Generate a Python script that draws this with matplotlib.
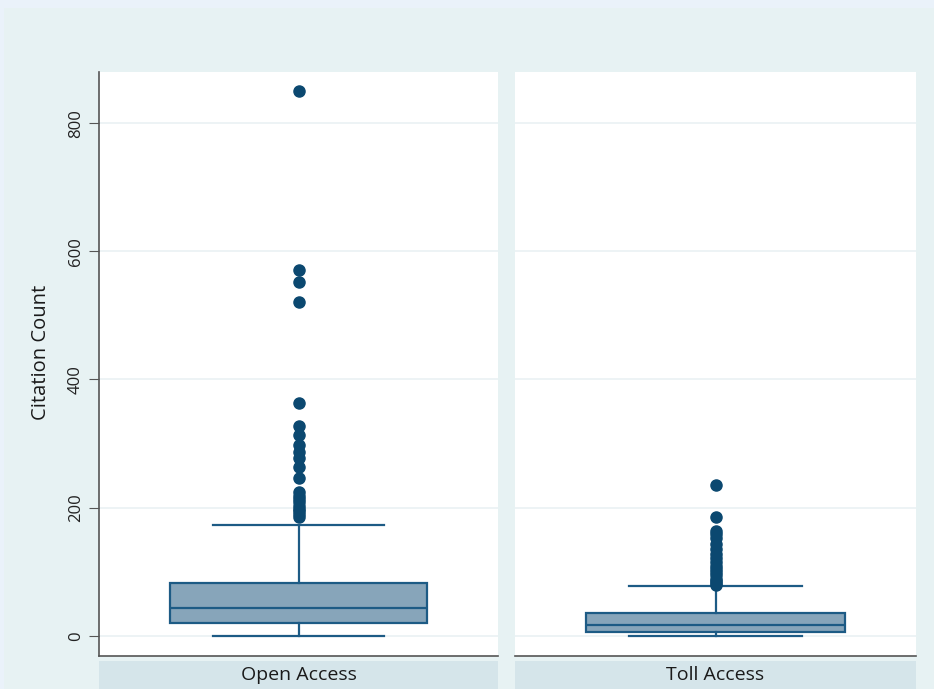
import matplotlib
matplotlib.use('Agg')
import matplotlib.pyplot as plt
from matplotlib.patches import Rectangle

plt.rcParams['font.family'] = ['Open Sans', 'DejaVu Sans']

# group labels
groups = ['Open Access', 'Toll Access']

# box summary values
whislo = [0, 0]
q1 = [20, 6]
med = [44, 17]
q3 = [83, 35]
whishi = [173, 77]

# outliers
fliers_open = [850, 571, 552, 521, 363, 327, 313, 297, 287, 278, 263, 246,
               224, 218, 213, 208, 203, 198, 194, 190, 186]
fliers_toll = [235, 186, 164, 158, 152, 143, 136, 128, 121, 115, 109, 104,
               99, 94, 89, 85, 82, 79]
fliers = [fliers_open, fliers_toll]

yticks = [0, 200, 400, 600, 800]

W, H = 934, 689
fig = plt.figure(figsize=(W / 100, H / 100), dpi=100)
fig.patch.set_facecolor('#eaf2fa')
# inner background, slightly greener than the outer border
fig.patches.append(Rectangle((4 / W, 0), 1, 1 - 8 / H, transform=fig.transFigure,
                             facecolor='#e7f2f3', edgecolor='none', zorder=-5))

edge = '#1d5b85'
fill = '#87a5ba'
dot = '#0b4870'

panels = [(99, 498), (515, 916)]
top, bottom = 72, 656

for i, (x0, x1) in enumerate(panels):
    ax = fig.add_axes([x0 / W, 1 - bottom / H, (x1 - x0) / W, (bottom - top) / H])
    ax.set_facecolor('white')
    stats = [dict(med=med[i], q1=q1[i], q3=q3[i], whislo=whislo[i],
                  whishi=whishi[i], fliers=fliers[i])]
    ax.bxp(stats, positions=[1], widths=0.645, capwidths=0.43, patch_artist=True,
           boxprops=dict(facecolor=fill, edgecolor=edge, linewidth=1.6),
           medianprops=dict(color=edge, linewidth=1.6),
           whiskerprops=dict(color=edge, linewidth=1.6),
           capprops=dict(color=edge, linewidth=1.6),
           flierprops=dict(marker='o', markerfacecolor=dot, markeredgecolor=dot,
                           markersize=8))
    ax.set_xlim(0.5, 1.5)
    ax.set_ylim(-31.7, 880)
    ax.set_yticks(yticks)
    ax.grid(axis='y', color='#eaf1f4', linewidth=1.2)
    ax.set_axisbelow(True)
    ax.set_xticks([])
    for s in ['top', 'right']:
        ax.spines[s].set_visible(False)
    ax.spines['bottom'].set_color('#555555')
    ax.spines['bottom'].set_linewidth(1.2)
    if i == 0:
        ax.spines['left'].set_color('#555555')
        ax.spines['left'].set_linewidth(1.2)
        ax.tick_params(axis='y', length=7, color='#555555', labelsize=12,
                       labelcolor='#222222', pad=4)
        plt.setp(ax.get_yticklabels(), rotation=90, va='center')
        ax.set_ylabel('Citation Count', fontsize=14.5, color='#1a1a1a')
        ax.yaxis.set_label_coords(-48 / (x1 - x0), 0.52)
    else:
        ax.spines['left'].set_visible(False)
        ax.tick_params(axis='y', length=0, labelleft=False)

    # strip label underneath
    sx = fig.add_axes([x0 / W, 0, (x1 - x0) / W, (H - 661) / H])
    sx.set_facecolor('#d5e5ea')
    sx.set_xticks([])
    sx.set_yticks([])
    for s in sx.spines.values():
        s.set_visible(False)
    sx.set_ylim(0, 1)
    sx.text(0.5, 0.5, groups[i], ha='center', va='center', fontsize=14,
            color='#1a1a1a', transform=sx.transAxes)

fig.savefig('out.png', dpi=100, facecolor=fig.get_facecolor())
